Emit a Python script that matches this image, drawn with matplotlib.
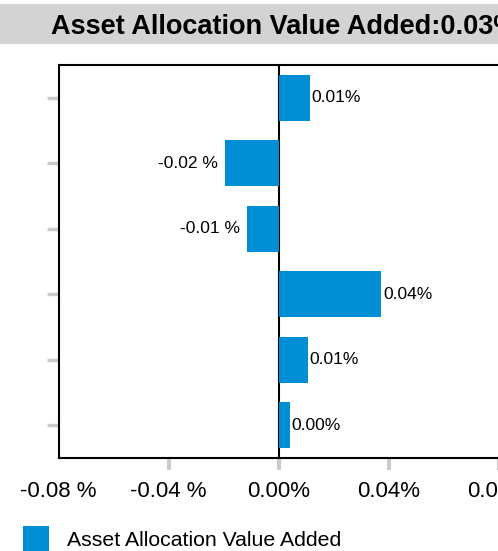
import matplotlib
matplotlib.use("Agg")
import matplotlib.pyplot as plt
from matplotlib.patches import Rectangle

plt.rcParams['font.family'] = ['Liberation Sans', 'DejaVu Sans']

# ---- data ----
categories = ["Cat 1", "Cat 2", "Cat 3", "Cat 4", "Cat 5", "Cat 6"]
values = [0.0113, -0.0194, -0.0113, 0.0373, 0.0106, 0.0040]
xticks = [-0.08, -0.04, 0.00, 0.04, 0.08]
xtick_labels = ["-0.08 %", "-0.04 %", "0.00%", "0.04%", "0.08%"]
title_text = "Asset Allocation Value Added:0.03%"
legend_label = "Asset Allocation Value Added"

BAR_COLOR = "#008fd5"
TICK_COLOR = "#c8ccd0"

W, H = 498, 551
fig = plt.figure(figsize=(W / 100, H / 100), dpi=100)

# title band
fig.patches.append(Rectangle((0, 1 - 44 / H), 1.2, 40 / H, transform=fig.transFigure,
                             facecolor="#d3d3d3", edgecolor="none", zorder=0))
fig.text(51 / W, 1 - 33.5 / H, title_text, fontsize=19.5, fontweight="bold",
         ha="left", va="baseline", color="black")

ax = fig.add_axes([58.5 / W, 1 - 458 / H, 495 / W, (458 - 65) / H])
ypos = list(range(len(categories)))
bars = ax.barh(ypos, values, height=0.7, color=BAR_COLOR, zorder=2, label=legend_label)
ax.axvline(0, color="black", lw=1.5, zorder=1)

for y, v in zip(ypos, values):
    if v >= 0:
        ax.annotate(f"{v:.2f}%", (v, y), xytext=(1.5, 0), textcoords="offset points",
                    ha="left", va="center", fontsize=12.5)
    else:
        ax.annotate(f"{v:.2f} %", (v, y), xytext=(-5.5, 0), textcoords="offset points",
                    ha="right", va="center", fontsize=12.5)

ax.set_xlim(-0.08, 0.10)
ax.set_ylim(5.5, -0.5)
ax.set_xticks(xticks)
ax.set_xticklabels(xtick_labels, fontsize=16)
ax.set_yticks(ypos)
ax.set_yticklabels([])

ax.tick_params(axis="x", direction="out", length=8.5, width=3, color=TICK_COLOR, pad=8)
ax.tick_params(axis="y", direction="out", length=9, width=2.5, color=TICK_COLOR)
ax.xaxis.get_major_ticks()[0].tick1line.set_visible(False)

for s in ax.spines.values():
    s.set_linewidth(1.5)
    s.set_color("black")

fig.legend(handles=[bars], labels=[legend_label], loc="lower left",
           bbox_to_anchor=(23 / W, -1 / H), frameon=False, fontsize=15.3,
           handlelength=1.22, handleheight=1.5, handletextpad=0.85,
           borderpad=0, borderaxespad=0)

fig.savefig("out.png", dpi=100)
